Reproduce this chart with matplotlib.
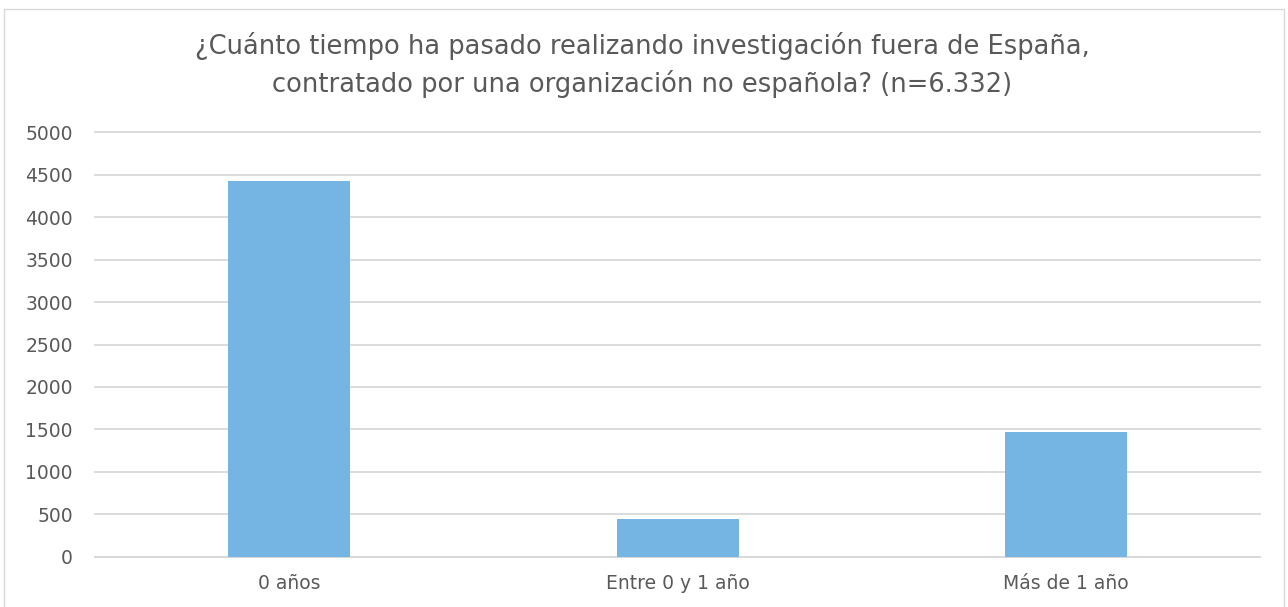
import matplotlib
matplotlib.use('Agg')
import matplotlib.pyplot as plt
from matplotlib.patches import Rectangle

categories = ['0 años', 'Entre 0 y 1 año', 'Más de 1 año']
counts = [4422, 442, 1465]
yticks = list(range(0, 5001, 500))
title = ('¿Cuánto tiempo ha pasado realizando investigación fuera de España,\n'
         'contratado por una organización no española? (n=6.332)')

text_color = '#595959'
grid_color = '#D9D9D9'
bar_color = '#75B5E4'

plt.rcParams['font.family'] = ['DejaVu Sans']

fig = plt.figure(figsize=(12.88, 6.07), dpi=100)
ax = fig.add_axes([0.0738, 0.0824, 0.9045, 0.7001])

x = range(len(categories))
ax.bar(x, counts, width=0.314, color=bar_color, zorder=3)
ax.set_xlim(-0.5, len(categories) - 0.5)
ax.set_ylim(0, 5000)
ax.set_yticks(yticks)
ax.set_xticks(list(x))
ax.set_xticklabels(categories)
ax.tick_params(axis='both', length=0, labelsize=13.5, colors=text_color)
ax.tick_params(axis='y', pad=16)
ax.tick_params(axis='x', pad=12)
ax.yaxis.grid(True, color=grid_color, linewidth=1.3, zorder=0, clip_on=False)
for s in ('top', 'right', 'left'):
    ax.spines[s].set_visible(False)
ax.spines['bottom'].set_color(grid_color)
ax.spines['bottom'].set_linewidth(1.3)

fig.text(0.4985, 0.893, title, ha='center', va='center', fontsize=18.5,
         color=text_color, linespacing=1.42)

fig.patches.append(Rectangle((4 / 1288, -0.01), 1280 / 1288, 1 - 9 / 607 + 0.01,
                             transform=fig.transFigure, fill=False,
                             edgecolor=grid_color, linewidth=1.0))

fig.savefig('out.png', dpi=100)
